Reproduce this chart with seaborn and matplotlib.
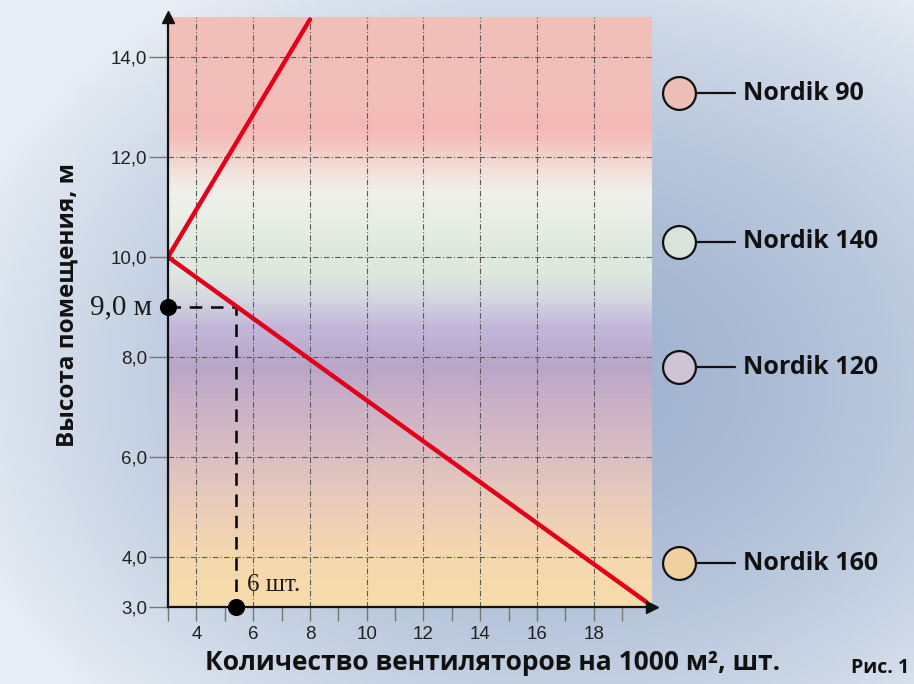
import numpy as np
import matplotlib
matplotlib.use("Agg")
import matplotlib.pyplot as plt
from matplotlib.colors import LinearSegmentedColormap, to_rgb
import seaborn as sns

# red curve: fans per 1000 m2 against room height
fans_count = [8.0, 3.0, 19.85]
room_height = [14.75, 10.0, 3.1]

# worked example on the chart
example_height = 9.0
example_fans = 5.4

x_ticks = [4, 6, 8, 10, 12, 14, 16, 18]
y_ticks = [3.0, 4.0, 6.0, 8.0, 10.0, 12.0, 14.0]
y_tick_labels = ["3,0", "4,0", "6,0", "8,0", "10,0", "12,0", "14,0"]

models = ["Nordik 90", "Nordik 140", "Nordik 120", "Nordik 160"]
model_colors = ["#EDBDB6", "#D8E4DA", "#CFC3D6", "#F0CFA0"]
model_height = [13.28, 10.3, 7.8, 3.88]

# colour bands of the plot area by room height
band_heights = [3.0, 4.0, 5.0, 6.0, 7.0, 7.8, 8.6, 9.2, 9.7, 10.2, 10.8, 11.3,
                11.8, 12.3, 12.6, 13.2, 14.8]
band_colors = ["#F7DCAC", "#F5D8AE", "#EBCDB8", "#DABEC2", "#CBB2C6", "#B9A6C9",
               "#C2B7DA", "#D7D8DF", "#DDE9DE", "#DEEADF", "#EAEEE6", "#F1F0EC",
               "#F3DDD7", "#F3C4BF", "#F5B9B7", "#F2BFBA", "#F2BEB8"]

XMIN, XMAX = 3.0, 20.05
YMIN, YMAX = 3.0, 14.8

sns.set_theme(style="white")
plt.rcParams["font.family"] = ["Liberation Sans", "DejaVu Sans"]
LABEL_FONT = "Open Sans"

W, H = 914, 684
fig = plt.figure(figsize=(W / 100, H / 100), dpi=100)

# figure background: soft radial blue gradient
bg = fig.add_axes([0, 0, 1, 1], zorder=-10)
gx, gy = np.meshgrid(np.linspace(0, W, 230), np.linspace(0, H, 172))
r = np.sqrt(((gx - 560) / 640) ** 2 + ((gy - 380) / 480) ** 2)
r = np.clip(r, 0, 1)
dark = np.array(to_rgb("#A0B2CF"))
light = np.array(to_rgb("#E8EEF5"))
t = r[..., None] ** 1.6
img = dark[None, None, :] * (1 - t) + light[None, None, :] * t
bg.imshow(img, extent=[0, W, H, 0], aspect="auto")
bg.set_xlim(0, W)
bg.set_ylim(H, 0)
bg.axis("off")

ax = fig.add_axes([168 / W, 1 - 607 / H, (652 - 168) / W, (607 - 17) / H])

# vertical colour bands
pos = [(h - YMIN) / (YMAX - YMIN) for h in band_heights]
cmap = LinearSegmentedColormap.from_list("bands", list(zip(pos, band_colors)))
grad = np.linspace(0, 1, 400)[:, None]
ax.imshow(grad, cmap=cmap, origin="lower", aspect="auto",
          extent=[XMIN, XMAX, YMIN, YMAX], zorder=0)

# grid
for xv in x_ticks:
    ax.axvline(xv, color="#5a5a5a", lw=0.8, ls=(0, (5, 2, 1, 2)), zorder=1)
for yv in y_ticks[1:]:
    ax.axhline(yv, color="#5a5a5a", lw=0.8, ls=(0, (5, 2, 1, 2)), zorder=1)

# main curve
sns.lineplot(x=fans_count, y=room_height, sort=False, estimator=None,
             color="#E2001A", lw=3.2, ax=ax, zorder=4)

# dashed reading lines
sns.lineplot(x=[XMIN, example_fans, example_fans],
             y=[example_height, example_height, YMIN],
             sort=False, estimator=None, color="black", lw=1.8, ax=ax, zorder=3,
             linestyle=(0, (5, 3.5)))
sns.scatterplot(x=[XMIN, example_fans], y=[example_height, YMIN], color="black",
                s=130, ax=ax, zorder=6, clip_on=False, edgecolor="black")

ax.text(XMIN - 0.56, example_height, "9,0 м", ha="right", va="center",
        fontsize=21, family="Liberation Serif", color="#1a1a1a")
ax.text(example_fans + 0.4, 3.22, "6 шт.", ha="left", va="bottom",
        fontsize=18, family="Liberation Serif", color="#1a1a1a")

ax.set_xlim(XMIN, XMAX)
ax.set_ylim(YMIN, YMAX)

ax.set_xticks(x_ticks)
ax.set_xticks(range(3, 20), minor=True)
ax.set_yticks(y_ticks)
ax.set_yticklabels(y_tick_labels)
ax.tick_params(axis="x", which="both", direction="out", length=10, width=1,
               color="#777777", labelsize=13.5, labelcolor="#222222", pad=4,
               bottom=True)
ax.tick_params(axis="y", direction="out", length=14, width=1, color="#777777",
               labelsize=13.5, labelcolor="#222222", pad=1, left=True)

for side in ["top", "right"]:
    ax.spines[side].set_visible(False)
for side in ["left", "bottom"]:
    ax.spines[side].set_color("#111111")
    ax.spines[side].set_linewidth(1.6)
    ax.spines[side].set_zorder(5)
ax.plot(1.0, 0, ">", color="#111111", ms=8, transform=ax.transAxes, clip_on=False, zorder=7)
ax.plot(0, 1.0, "^", color="#111111", ms=8, transform=ax.transAxes, clip_on=False, zorder=7)

# legend of models on the right
for name, col, h in zip(models, model_colors, model_height):
    ax.scatter([21.01], [h], s=560, color=col, edgecolor="#111111", lw=1.6,
               clip_on=False, zorder=8)
    ax.plot([21.6, 22.97], [h, h], color="#111111", lw=1.6, clip_on=False, zorder=8)
    ax.text(23.25, h, name, ha="left", va="center", fontsize=18,
            fontweight="bold", family=LABEL_FONT, color="#111111")

fig.text(493 / W, 1 - 663 / H, "Количество вентиляторов на 1000 м², шт.",
         ha="center", va="center", fontsize=19, fontweight="bold",
         family=LABEL_FONT, color="#111111")
fig.text(68 / W, 1 - 305 / H, "Высота помещения, м", ha="center", va="center",
         rotation=90, fontsize=17.5, fontweight="bold", family=LABEL_FONT, color="#111111")
fig.text(880 / W, 1 - 668 / H, "Рис. 1", ha="center", va="center", fontsize=14,
         fontweight="bold", family=LABEL_FONT, color="#111111")

fig.savefig("out.png", dpi=100)
